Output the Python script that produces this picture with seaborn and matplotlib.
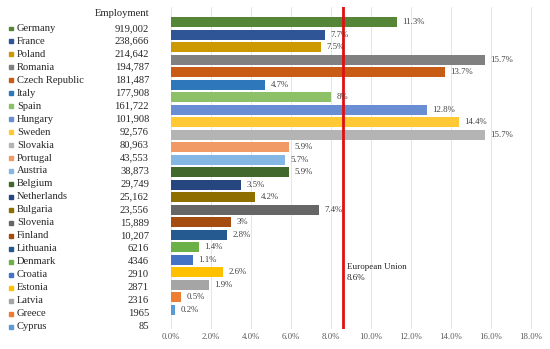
import matplotlib
matplotlib.use("Agg")
import matplotlib.pyplot as plt
import matplotlib.patches as mpatches
import seaborn as sns
import pandas as pd

countries = ['Germany', 'France', 'Poland', 'Romania', 'Czech Republic', 'Italy',
             'Spain', 'Hungary', 'Sweden', 'Slovakia', 'Portugal', 'Austria',
             'Belgium', 'Netherlands', 'Bulgaria', 'Slovenia', 'Finland',
             'Lithuania', 'Denmark', 'Croatia', 'Estonia', 'Latvia', 'Greece', 'Cyprus']
employment = ['919,002', '238,666', '214,642', '194,787', '181,487', '177,908',
              '161,722', '101,908', '92,576', '80,963', '43,553', '38,873',
              '29,749', '25,162', '23,556', '15,889', '10,207',
              '6216', '4346', '2910', '2871', '2316', '1965', '85']
share = [11.3, 7.7, 7.5, 15.7, 13.7, 4.7, 8, 12.8, 14.4, 15.7, 5.9, 5.7,
         5.9, 3.5, 4.2, 7.4, 3, 2.8, 1.4, 1.1, 2.6, 1.9, 0.5, 0.2]
colors = ['#558537', '#2F5597', '#CC9A00', '#808080', '#C95C14', '#2E77BA',
          '#8CC168', '#6A8ED3', '#FFC935', '#B4B4B4', '#F19A66', '#85B7E5',
          '#43682D', '#264680', '#8F6E00', '#666666', '#A54D10',
          '#245A90', '#6CB048', '#4472C4', '#FFC000', '#A5A5A5', '#ED7D31', '#5B9BD5']
eu_value = 8.6

df = pd.DataFrame({'Country': countries, 'Share': share})

W, H = 550, 349
fig = plt.figure(figsize=(W / 100, H / 100), dpi=100)
serif = 'Liberation Serif'

# plot area in pixel coords: left 171, right 541, top 7, bottom 329
ax = fig.add_axes([171 / W, 1 - 329 / H, 370 / W, 322 / H])
sns.barplot(data=df, x='Share', y='Country', hue='Country', palette=colors,
            orient='h', width=0.8, legend=False, ax=ax, saturation=1)

ax.set_xlim(0, 18.5)
ax.set_ylim(24.53, -1.22)
ax.set_xticks([0, 2, 4, 6, 8, 10, 12, 14, 16, 18])
ax.set_xticklabels([f'{t:.1f}%' for t in ax.get_xticks()], fontfamily=serif,
                   fontsize=6.3, color='#595959')
ax.set_yticks([])
ax.set_xlabel('')
ax.set_ylabel('')
ax.tick_params(axis='x', length=0, pad=3)
ax.grid(axis='x', color='#E6E6E6', lw=0.7)
ax.set_axisbelow(True)
for s in ax.spines.values():
    s.set_visible(False)

for cont, v in zip(ax.containers, share):
    ax.bar_label(cont, labels=[f'{v:g}%'], padding=4, fontfamily=serif,
                 fontsize=6.3, color='#404040')

ax.axvline(eu_value, color='#E01010', lw=2)
ax.text(eu_value + 0.2, 20.0, f'European Union\n{eu_value}%', fontfamily=serif,
        fontsize=6.5, color='#262626', va='center', ha='left', linespacing=1.5)

# left table
def fx(x):
    return x / W

def fy(y):
    return 1 - y / H

fig.text(fx(149), fy(13), 'Employment', ha='right', va='center',
         fontfamily=serif, fontsize=7.6, color='#262626')
row0, step = 28.3, 12.97
for i, (c, e, col) in enumerate(zip(countries, employment, colors)):
    y = row0 + i * step
    fig.patches.append(mpatches.Rectangle((fx(9), fy(y + 2)), 3.8 / W, 3.8 / H,
                                          transform=fig.transFigure, color=col))
    fig.text(fx(17), fy(y), c, ha='left', va='center', fontfamily=serif,
             fontsize=7.6, color='#262626')
    fig.text(fx(149), fy(y), e, ha='right', va='center', fontfamily=serif,
             fontsize=7.6, color='#262626')

fig.savefig('out.png', dpi=100)
